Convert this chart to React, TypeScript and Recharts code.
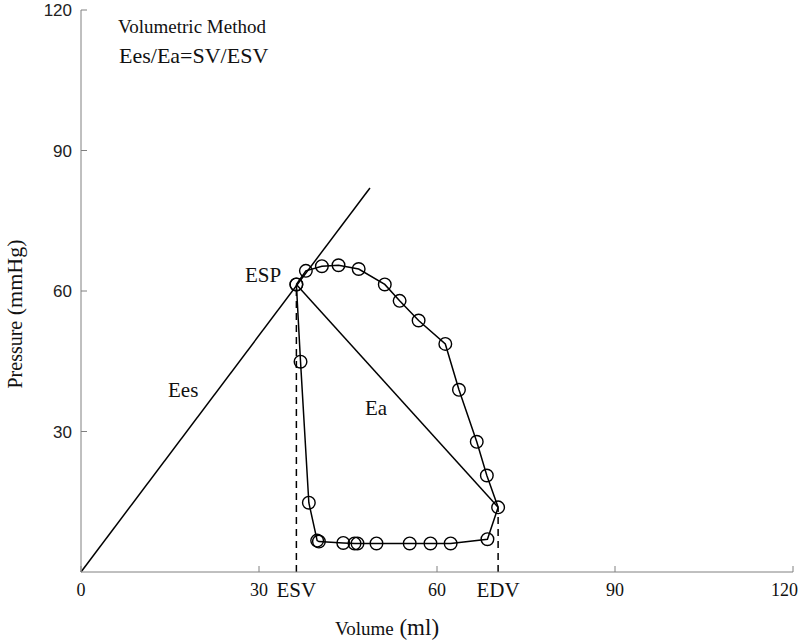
import React from "react";
import {
  ComposedChart,
  Scatter,
  XAxis,
  YAxis,
  ReferenceLine,
} from "recharts";

// pressure-volume loop (clockwise from end-systole)
const loopVolume = [
  36.3, 37.9, 40.6, 43.4, 46.8, 51.2, 53.7, 56.9, 61.4, 63.7, 66.7, 68.4, 70.3,
  68.5, 62.3, 58.9, 55.4, 49.8, 46.6, 46.1, 44.2, 40.1, 39.8, 38.4, 37.0, 36.3,
];
const loopPressure = [
  61.4, 64.3, 65.3, 65.5, 64.7, 61.4, 57.9, 53.7, 48.7, 38.9, 27.8, 20.6, 13.8,
  7.0, 6.1, 6.1, 6.1, 6.1, 6.1, 6.1, 6.2, 6.5, 6.7, 14.8, 44.9, 61.4,
];

const ESV = 36.3;
const ESP = 61.4;
const EDV = 70.3;
const EDP = 13.8;
const eesEnd = { x: 48.7, y: 82 };

const xTicks = [0, 30, ESV, 60, EDV, 90, 120];
const xTickNames: Record<number, string> = { [ESV]: "ESV", [EDV]: "EDV" };
const yTicks = [30, 60, 90, 120];

const loop = loopVolume.map((v, i) => ({ v, p: loopPressure[i] }));

const W = 800;
const H = 643;
const PLOT_LEFT = 81;
const PLOT_BOTTOM = 572;
const AXIS = "#808080";
const SERIF = "'Liberation Serif', 'Times New Roman', serif";
const SANS = "'Liberation Sans', Arial, sans-serif";

const XTick = (props: any) => {
  const { x, payload } = props;
  const name = xTickNames[payload.value];
  if (name) {
    return (
      <text x={x} y={PLOT_BOTTOM + 25} textAnchor="middle" fontFamily={SERIF} fontSize={21} fill="#111">
        {name}
      </text>
    );
  }
  const last = payload.value === 120;
  return (
    <g>
      <line x1={x} x2={x} y1={PLOT_BOTTOM} y2={PLOT_BOTTOM - 6} stroke={AXIS} />
      <text
        x={last ? 798 : x}
        y={PLOT_BOTTOM + 24}
        textAnchor={last ? "end" : "middle"}
        fontFamily={SERIF}
        fontSize={18}
        fill="#111"
      >
        {payload.value}
      </text>
    </g>
  );
};

const YTick = (props: any) => {
  const { y, payload } = props;
  return (
    <g>
      <line x1={PLOT_LEFT} x2={PLOT_LEFT + 6} y1={y} y2={y} stroke={AXIS} />
      <text x={PLOT_LEFT - 9} y={y + 6} textAnchor="end" fontFamily={SANS} fontSize={17} fill="#222">
        {payload.value}
      </text>
    </g>
  );
};

const Ring = (props: any) => (
  <circle cx={props.cx} cy={props.cy} r={6.3} fill="none" stroke="#000" strokeWidth={1.4} />
);

export default function App() {
  return (
    <div style={{ position: "absolute", left: 0, top: 0, width: W, height: H, background: "#fff" }}>
      <ComposedChart width={W} height={H} margin={{ top: 10, right: 7, bottom: 0, left: 0 }}>
        <XAxis
          type="number"
          dataKey="v"
          domain={[0, 120]}
          ticks={xTicks}
          interval={0}
          height={71}
          stroke={AXIS}
          tickLine={false}
          tick={<XTick />}
          allowDataOverflow
        />
        <YAxis
          type="number"
          dataKey="p"
          domain={[0, 120]}
          ticks={yTicks}
          interval={0}
          width={81}
          stroke={AXIS}
          tickLine={false}
          tick={<YTick />}
          allowDataOverflow
        />
        <ReferenceLine
          segment={[{ x: 0, y: 0 }, eesEnd]}
          stroke="#000"
          strokeWidth={1.5}
        />
        <ReferenceLine
          segment={[{ x: ESV, y: ESP }, { x: EDV, y: EDP }]}
          stroke="#000"
          strokeWidth={1.5}
        />
        <ReferenceLine
          segment={[{ x: ESV, y: 0 }, { x: ESV, y: ESP }]}
          stroke="#000"
          strokeWidth={1.5}
          strokeDasharray="7 5"
        />
        <ReferenceLine
          segment={[{ x: EDV, y: 0 }, { x: EDV, y: EDP }]}
          stroke="#000"
          strokeWidth={1.5}
          strokeDasharray="7 5"
        />
        <Scatter
          data={loop}
          dataKey="p"
          line={{ stroke: "#000", strokeWidth: 1.5 }}
          shape={<Ring />}
          isAnimationActive={false}
        />
      </ComposedChart>
      <svg width={W} height={H} style={{ position: "absolute", left: 0, top: 0, pointerEvents: "none" }}>
        <g fontFamily={SERIF} fill="#111">
          <text x={118} y={33} fontSize={19}>Volumetric Method</text>
          <text x={119} y={63} fontSize={22}>Ees/Ea=SV/ESV</text>
          <text x={245} y={282} fontSize={21}>ESP</text>
          <text x={168} y={397} fontSize={21}>Ees</text>
          <text x={365} y={415} fontSize={21}>Ea</text>
          <text x={387} y={635} textAnchor="middle">
            <tspan fontSize={19}>Volume</tspan>
            <tspan fontSize={23}> (ml)</tspan>
          </text>
          <text x={0} y={0} textAnchor="middle" transform="translate(22,314) rotate(-90)">
            <tspan fontSize={20}>Pressure</tspan>
            <tspan fontSize={22}> (mmHg)</tspan>
          </text>
        </g>
      </svg>
    </div>
  );
}
